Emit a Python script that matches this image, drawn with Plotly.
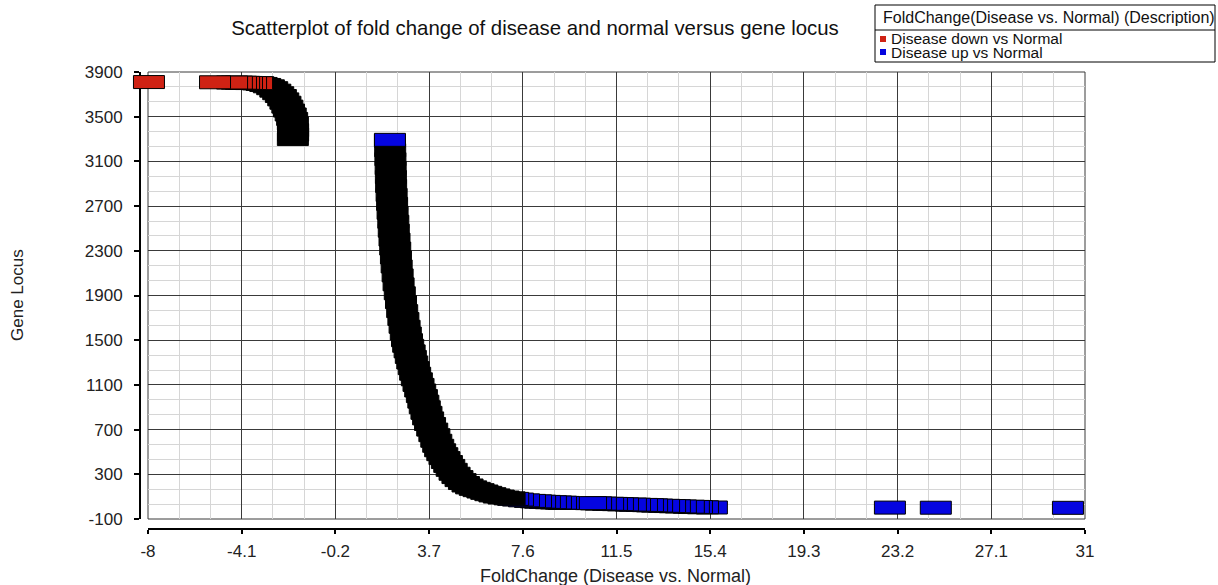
import plotly.graph_objects as go

# ---------------- data ----------------
# Dense part of the "up" curve (in the source the overlapping outlines make it a solid black band)
dense_up_x = [2.07, 2.08, 2.09, 2.10, 2.11, 2.12, 2.14, 2.16, 2.18, 2.21,
              2.23, 2.26, 2.29, 2.32, 2.35, 2.39, 2.43, 2.48, 2.53, 2.58,
              2.63, 2.68, 2.73, 2.78, 2.83, 2.89, 2.94, 3.00, 3.06, 3.12,
              3.19, 3.26, 3.33, 3.40, 3.46, 3.52, 3.59, 3.66, 3.74, 3.83,
              3.92, 4.00, 4.08, 4.16, 4.25, 4.34, 4.44, 4.54, 4.64, 4.76,
              4.88, 5.01, 5.15, 5.30, 5.45, 5.60, 5.76, 5.92, 6.08, 6.25,
              6.42, 6.60, 6.80, 7.05]
dense_up_y = [3285, 3200, 3120, 3040, 2960, 2880, 2800, 2720, 2640, 2560,
              2480, 2400, 2320, 2240, 2160, 2080, 2000, 1920, 1840, 1760,
              1690, 1620, 1560, 1500, 1450, 1400, 1350, 1300, 1250, 1200,
              1150, 1100, 1050, 1000, 950, 900, 850, 800, 750, 700,
              650, 600, 555, 515, 480, 445, 410, 375, 340, 305,
              275, 248, 222, 200, 183, 170, 158, 146, 134, 122,
              111, 101, 92, 85]

# Dense part of the "down" curve
dense_down_x = [-1.97, -1.96, -1.96, -1.97, -2.00, -2.06, -2.13, -2.20, -2.28,
                -2.37, -2.47, -2.58, -2.70, -2.83, -2.97, -3.12, -3.27, -3.40]
dense_down_y = [3300, 3340, 3380, 3440, 3480, 3520, 3555, 3590, 3625,
                3655, 3685, 3710, 3733, 3755, 3772, 3784, 3793, 3799]

# Individually visible "Disease up vs Normal" points (blue)
up_x = [30.29, 24.79, 22.88, 15.47, 15.10, 14.85, 14.72, 14.51, 14.18, 13.93,
        13.73, 13.48, 13.19, 12.98, 12.81, 12.56, 12.27, 12.10, 11.77, 11.56,
        11.31, 11.15, 10.85, 10.65, 10.44, 9.31, 9.19, 8.98, 8.77, 8.52,
        8.32, 8.15, 7.90, 7.65, 7.40, 7.20, 2.07]
up_y = [0, 1, 2, 3, 5, 7, 8, 10, 12, 14,
        16, 18, 20, 22, 24, 26, 28, 29, 31, 33,
        35, 36, 38, 40, 42, 44, 46, 48, 50, 53,
        55, 58, 62, 67, 74, 80, 3293]

# Individually visible "Disease down vs Normal" points (red)
down_x = [-3.46, -3.71, -3.88, -4.00, -4.13, -4.30, -4.50, -5.21, -7.96]
down_y = [3800, 3801, 3802, 3803, 3804, 3805, 3806, 3808, 3810]

x_ticks = [-8, -4.1, -0.2, 3.7, 7.6, 11.5, 15.4, 19.3, 23.2, 27.1, 31]
x_tick_labels = ["-8", "-4.1", "-0.2", "3.7", "7.6", "11.5", "15.4", "19.3", "23.2", "27.1", "31"]
y_ticks = [-100, 300, 700, 1100, 1500, 1900, 2300, 2700, 3100, 3500, 3900]
y_tick_labels = ["-100", "300", "700", "1100", "1500", "1900", "2300", "2700", "3100", "3500", "3900"]

title_text = "Scatterplot of fold change of disease and normal versus gene locus"
x_title = "FoldChange (Disease vs. Normal)"
y_title = "Gene Locus"
legend_title = "FoldChange(Disease vs. Normal) (Description)"
legend_names = ["Disease down vs Normal", "Disease up vs Normal"]

# ---------------- styling / layout ----------------
RED = "#cf2214"
BLUE = "#0505e0"
BAND = "#000000"
FONT = "Liberation Sans, Arial, sans-serif"
W, H = 1218, 585


def px(xs):
    """screen x (px) -> paper fraction"""
    return xs / W


def py(ys):
    """screen y (px) -> paper fraction"""
    return 1 - ys / H


PL, PR, PT, PB = 148, 1085, 72, 519       # plot area on screen (px)
X_RANGE = [-8, 31]
Y_RANGE = [-100, 3900]
PAD = 30                                   # unclipped margin for marker rectangles
upp = (X_RANGE[1] - X_RANGE[0]) / (PR - PL)
x2_range = [X_RANGE[0] - PAD * upp, X_RANGE[1] + PAD * upp]
x2_domain = [px(PL - PAD), px(PR + PAD)]
y_domain = [py(PB), py(PT)]

points = ([(x, y, BAND) for x, y in zip(dense_up_x, dense_up_y)] +
          [(x, y, BAND) for x, y in zip(dense_down_x, dense_down_y)] +
          [(x, y, BLUE) for x, y in zip(up_x, up_y)] +
          [(x, y, RED) for x, y in zip(down_x, down_y)])
points.sort(key=lambda p: p[1])   # drawn in gene-locus order, as in the source

shapes = [dict(type="rect", xref="x domain", yref="y domain", x0=0, x1=1, y0=0, y1=1,
               line=dict(color="#3a3a3a", width=1), layer="below")]
for x, y, c in points:
    shapes.append(dict(type="rect", xref="x2", yref="y2",
                       xsizemode="pixel", ysizemode="pixel", xanchor=x, yanchor=y,
                       x0=-15.5, x1=15.5, y0=-6.5, y1=6.5,
                       fillcolor=c, line=dict(color="black", width=1), layer="above"))

# manual legend box
shapes.append(dict(type="rect", xref="paper", yref="paper", x0=px(875), x1=px(1215), y0=py(62), y1=py(5),
                   line=dict(color="black", width=1), fillcolor="white", layer="above"))
shapes.append(dict(type="line", xref="paper", yref="paper", x0=px(875), x1=px(1215), y0=py(30), y1=py(30),
                   line=dict(color="black", width=1), layer="above"))
for i, col in enumerate([RED, BLUE]):
    cy = 39 + 13 * i
    shapes.append(dict(type="rect", xref="paper", yref="paper", x0=px(880), x1=px(886),
                       y0=py(cy + 3), y1=py(cy - 3), fillcolor=col, line=dict(width=0), layer="above"))

annotations = [
    dict(text=x_title, xref="paper", yref="paper", x=px(615), y=py(576), xanchor="center", yanchor="middle",
         showarrow=False, font=dict(family=FONT, size=18, color="#222")),
    dict(text=y_title, xref="paper", yref="paper", x=px(17), y=py(295), xanchor="center", yanchor="middle",
         textangle=-90, showarrow=False, font=dict(family=FONT, size=17, color="#222")),
    dict(text=legend_title, xref="paper", yref="paper", x=px(881), y=py(17), xanchor="left", yanchor="middle",
         showarrow=False, font=dict(family=FONT, size=16, color="#111")),
]
for i, name in enumerate(legend_names):
    annotations.append(dict(text=name, xref="paper", yref="paper", x=px(889), y=py(39 + 13 * i),
                            xanchor="left", yanchor="middle", showarrow=False,
                            font=dict(family=FONT, size=15.5, color="#111")))

all_x = dense_up_x + dense_down_x + up_x + down_x
all_y = dense_up_y + dense_down_y + up_y + down_y
fig = go.Figure()
fig.add_trace(go.Scatter(x=all_x, y=all_y, mode="markers", marker=dict(opacity=0, size=10),
                         showlegend=False, xaxis="x", yaxis="y",
                         hovertemplate="FoldChange %{x}<br>Gene Locus %{y}<extra></extra>"))
fig.add_trace(go.Scatter(x=[X_RANGE[0]], y=[Y_RANGE[0]], mode="markers", marker=dict(opacity=0),
                         showlegend=False, hoverinfo="skip", xaxis="x2", yaxis="y2"))

tickfont = dict(family=FONT, size=17, color="#222")
fig.update_layout(
    width=W, height=H, autosize=False,
    margin=dict(l=0, r=0, t=0, b=0, pad=0, autoexpand=False),
    paper_bgcolor="white", plot_bgcolor="rgba(0,0,0,0)",
    showlegend=False,
    title=dict(text=title_text, xref="paper", yref="paper", x=px(535), y=py(28),
               xanchor="center", yanchor="middle", automargin=False,
               font=dict(family=FONT, size=20.4, color="#111")),
    xaxis=dict(domain=[px(PL), px(PR)], range=X_RANGE, anchor="free", position=py(529),
               automargin=False,
               tickmode="array", tickvals=x_ticks, ticktext=x_tick_labels,
               showline=True, linecolor="black", linewidth=2,
               ticks="outside", ticklen=4, tickwidth=2, tickcolor="black",
               showgrid=True, gridcolor="#3a3a3a", gridwidth=1, zeroline=False,
               minor=dict(tickmode="linear", tick0=-8, dtick=1.3, showgrid=True, gridcolor="#d6d6d6", gridwidth=1),
               tickfont=tickfont, ticklabelstandoff=3, fixedrange=True),
    yaxis=dict(domain=y_domain, range=Y_RANGE, anchor="free", position=px(140),
               automargin=False,
               tickmode="array", tickvals=y_ticks, ticktext=y_tick_labels,
               showline=True, linecolor="black", linewidth=2,
               ticks="outside", ticklen=5, tickwidth=2, tickcolor="black",
               showgrid=True, gridcolor="#3a3a3a", gridwidth=1, zeroline=False,
               minor=dict(tickmode="linear", tick0=-100, dtick=400 / 3, showgrid=True, gridcolor="#d6d6d6", gridwidth=1),
               tickfont=tickfont, ticklabelstandoff=8, fixedrange=True),
    xaxis2=dict(domain=x2_domain, range=x2_range, anchor="y2", visible=False, fixedrange=True, automargin=False),
    yaxis2=dict(domain=y_domain, range=Y_RANGE, anchor="x2", visible=False, fixedrange=True, automargin=False),
    shapes=shapes,
    annotations=annotations,
)

fig.write_html("out.html")
